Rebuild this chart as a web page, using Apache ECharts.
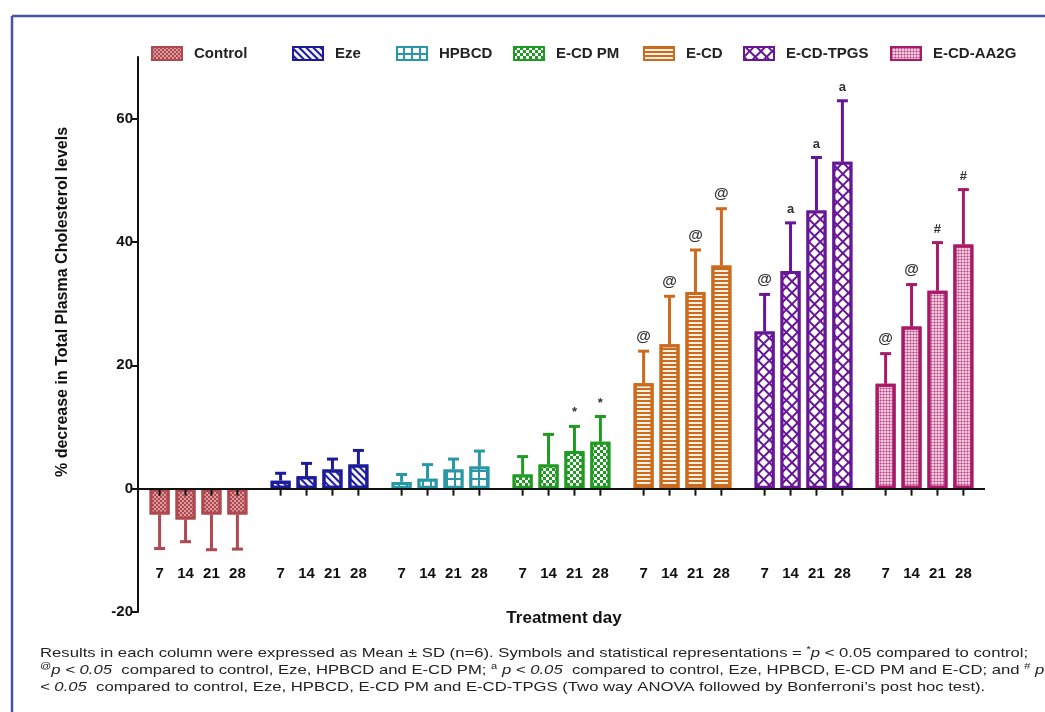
<!DOCTYPE html>
<html><head><meta charset="utf-8">
<script src="https://cdn.jsdelivr.net/npm/echarts@6/dist/echarts.min.js"></script>
<style>html,body{margin:0;padding:0;background:#fff}#c{width:1045px;height:712px}</style>
</head><body><div id="c"></div>
<script>
// ---------- data ----------
const groups = ['Control','Eze','HPBCD','E-CD PM','E-CD','E-CD-TPGS','E-CD-AA2G'];
const days = ['7','14','21','28'];
const controlMean = [-4.2,-5.0,-4.2,-4.2];
const controlSD   = [5.5,3.6,5.7,5.6];
const ezeMean  = [1.3,2.0,3.1,3.9];
const ezeSD    = [1.2,2.1,1.7,2.3];
const hpbcdMean = [1.1,1.6,3.1,3.6];
const hpbcdSD   = [1.2,2.3,1.7,2.5];
const ecdpmMean = [2.3,3.9,6.1,7.6];
const ecdpmSD   = [2.9,4.9,4.0,4.1];
const ecdMean  = [17.1,23.4,31.9,36.2];
const ecdSD    = [5.2,7.8,6.8,9.2];
const tpgsMean = [25.5,35.3,45.1,53.0];
const tpgsSD   = [6.0,7.8,8.6,9.9];
const aa2gMean = [17.0,26.3,32.1,39.6];
const aa2gSD   = [4.9,6.8,7.8,8.9];
const controlSig = ['','','',''];
const ezeSig   = ['','','',''];
const hpbcdSig = ['','','',''];
const ecdpmSig = ['','','*','*'];
const ecdSig   = ['@','@','@','@'];
const tpgsSig  = ['@','a','a','a'];
const aa2gSig  = ['@','@','#','#'];
const yTicks = [-20,0,20,40,60];

const means = [controlMean,ezeMean,hpbcdMean,ecdpmMean,ecdMean,tpgsMean,aa2gMean];
const sds = [controlSD,ezeSD,hpbcdSD,ecdpmSD,ecdSD,tpgsSD,aa2gSD];
const sigs = [controlSig,ezeSig,hpbcdSig,ecdpmSig,ecdSig,tpgsSig,aa2gSig];

// ---------- layout / style ----------
const FONT = '"Liberation Sans", Arial, sans-serif';
const colors = ['#b04850','#1c1c9a','#2a98a4','#1f9a22','#cc6a1e','#661696','#a81a68'];
const fills  = ['#b04850','#f4f4fc','#2a98a4','#1f9a22','#fdf1e4','#661696','#f3d3e4'];
const decals = [
  {symbol:'rect', symbolSize:1, dashArrayX:[[2,2],[0,2,2,0]], dashArrayY:[2,0], color:'rgba(255,225,225,0.55)'},
  {symbol:'rect', symbolSize:1, dashArrayX:[1,0], dashArrayY:[1.5,2.5], rotation:Math.PI/4, color:'#1c1c9a'},
  {symbol:'rect', symbolSize:1, dashArrayX:[6,2], dashArrayY:[6,2], color:'#ffffff'},
  {symbol:'rect', symbolSize:1, dashArrayX:[[3,3],[0,3,3,0]], dashArrayY:[3,0], color:'#ffffff'},
  {symbol:'rect', symbolSize:1, dashArrayX:[1,0], dashArrayY:[2,2], color:'#cc6a1e'},
  {symbol:'rect', symbolSize:1, dashArrayX:[5.5,2], dashArrayY:[5.5,2], rotation:Math.PI/4, color:'#ffffff'},
  {symbol:'circle', symbolSize:0.7, dashArrayX:[3,0], dashArrayY:[3,0], color:'#b8357c'}
];
const legendX = [146,287,391,508,638,738,885];
const NSLOT = 98, FIRST = 2, GROUP_STEP = 14, DAY_STEP = 3;

const slotOf = (g,d) => FIRST + g*GROUP_STEP + d*DAY_STEP;
const categories = [];
const slotLabel = {};
for (let i=0;i<NSLOT;i++){ categories.push('s'+i); slotLabel['s'+i]=''; }
groups.forEach((g,gi)=>days.forEach((d,di)=>{ slotLabel['s'+slotOf(gi,di)] = d; }));

const series = [];
groups.forEach((name,gi)=>{
  const data = new Array(NSLOT).fill('-');
  means[gi].forEach((v,di)=>{ data[slotOf(gi,di)] = v; });
  const s = {
    type:'bar', name, stack:'all', barWidth:20, data,
    itemStyle:{color:fills[gi], borderColor:colors[gi], borderWidth:3, decal:decals[gi]},
    emphasis:{disabled:true}, silent:true
  };
  if (gi === 0) s.markLine = {silent:true, symbol:['none','none'], label:{show:false},
    lineStyle:{color:'#111', width:2, type:'solid'}, data:[{yAxis:0}], animation:false, z:5};
  series.push(s);
});
groups.forEach((name,gi)=>{
  const col = colors[gi];
  series.push({
    type:'custom', name, silent:true, z:3,
    data: means[gi].map((m,di)=>[slotOf(gi,di), m, sds[gi][di]]),
    renderItem:(params, api)=>{
      const x = api.value(0), m = api.value(1), s = api.value(2);
      const end = m >= 0 ? m + s : m - s;
      const p0 = api.coord([x, m]), p1 = api.coord([x, end]), pz = api.coord([x, 0]);
      const cap = 5.5;
      const ch = [
        {type:'line', shape:{x1:p0[0],y1:p0[1],x2:p1[0],y2:p1[1]}, style:{stroke:col,lineWidth:3}},
        {type:'line', shape:{x1:p1[0]-cap,y1:p1[1],x2:p1[0]+cap,y2:p1[1]}, style:{stroke:col,lineWidth:3}},
        {type:'line', shape:{x1:pz[0],y1:pz[1],x2:pz[0],y2:pz[1]+7}, style:{stroke:'#111',lineWidth:2}}
      ];
      const mk = sigs[gi][params.dataIndex];
      if (mk) ch.push({type:'text', x:p1[0], y:p1[1]-7,
        style:{text:mk, align:'center', verticalAlign:'bottom', fontFamily:FONT,
               fontWeight:'bold', fontSize: mk==='@'?15:13, fill:'#333'}});
      return {type:'group', children:ch};
    }
  });
});

// footnote scaling
const cv = document.createElement('canvas').getContext('2d');
cv.font = '13.5px ' + FONT;
const line1Plain = 'Results in each column were expressed as Mean ± SD (n=6). Symbols and statistical representations = * p < 0.05 compared to control;';
const fnScale = 995 / cv.measureText(line1Plain).width;

const fnRich = {
  n:{fontSize:13.5, fontFamily:FONT, fill:'#222', lineHeight:17},
  i:{fontSize:13.5, fontFamily:FONT, fontStyle:'italic', fill:'#222', lineHeight:17},
  s:{fontSize:9, fontFamily:FONT, fill:'#222', verticalAlign:'top', lineHeight:17}
};
const fnLines = [
  '{n|Results in each column were expressed as Mean ± SD (n=6). Symbols and statistical representations = }{s|*}{i|p}{n| < 0.05 compared to control;}',
  '{s|@}{i|p < 0.05}{n|  compared to control, Eze, HPBCD and E-CD PM; }{s|a}{i| p < 0.05}{n|  compared to control, Eze, HPBCD, E-CD PM and E-CD; and }{s|#}{i| p}',
  '{i|< 0.05}{n|  compared to control, Eze, HPBCD, E-CD PM and E-CD-TPGS (Two way ANOVA followed by Bonferroni’s post hoc test).}'
];

const chart = echarts.init(document.getElementById('c'), null, {renderer:'canvas'});
chart.setOption({
  animation:false,
  backgroundColor:'#ffffff',
  grid:{left:138, right:60, top:57, bottom:100, containLabel:false},
  legend: groups.map((g,gi)=>({
    data:[g], left:legendX[gi], top:41, icon:'rect', itemWidth:30, itemHeight:13,
    selectedMode:false,
    textStyle:{fontFamily:FONT, fontWeight:'bold', fontSize:15, color:'#222', padding:[0,0,0,7]}
  })),
  xAxis:{
    type:'category', data:categories,
    axisLine:{show:false, onZero:false},
    axisTick:{show:false},
    axisLabel:{interval:0, margin:-46, fontFamily:FONT, fontWeight:'bold', fontSize:15, color:'#111',
      formatter:(v)=>slotLabel[v]},
    splitLine:{show:false}
  },
  yAxis:{
    type:'value', min:-20, max:70,
    axisLine:{show:true, lineStyle:{color:'#111', width:2}},
    axisTick:{show:true, length:6, lineStyle:{color:'#111', width:2}, customValues:yTicks},
    axisLabel:{customValues:yTicks, fontFamily:FONT, fontWeight:'bold', fontSize:15, color:'#111', margin:5},
    splitLine:{show:false}
  },
  series,
  graphic:[
    {type:'line', shape:{x1:12,y1:16,x2:1045,y2:16}, style:{stroke:'#4a54a6', lineWidth:2.5}, silent:true},
    {type:'line', shape:{x1:12,y1:16,x2:12,y2:712}, style:{stroke:'#4a54a6', lineWidth:2.5}, silent:true},
    {type:'text', x:63, y:302, rotation:Math.PI/2,
      style:{text:'% decrease in Total Plasma Cholesterol levels', align:'center', verticalAlign:'middle',
        fontFamily:FONT, fontWeight:'bold', fontSize:16, fill:'#111'}},
    {type:'text', x:564, y:618,
      style:{text:'Treatment day', align:'center', verticalAlign:'middle',
        fontFamily:FONT, fontWeight:'bold', fontSize:17, fill:'#111'}},
    {type:'group', x:40, y:645, scaleX:fnScale, children: fnLines.map((t,li)=>({
      type:'text', x:0, y:li*16.8,
      style:{text:t, rich:fnRich, align:'left', verticalAlign:'top', fontFamily:FONT, fontSize:13.5, fill:'#222'}
    }))}
  ]
});
</script></body></html>
